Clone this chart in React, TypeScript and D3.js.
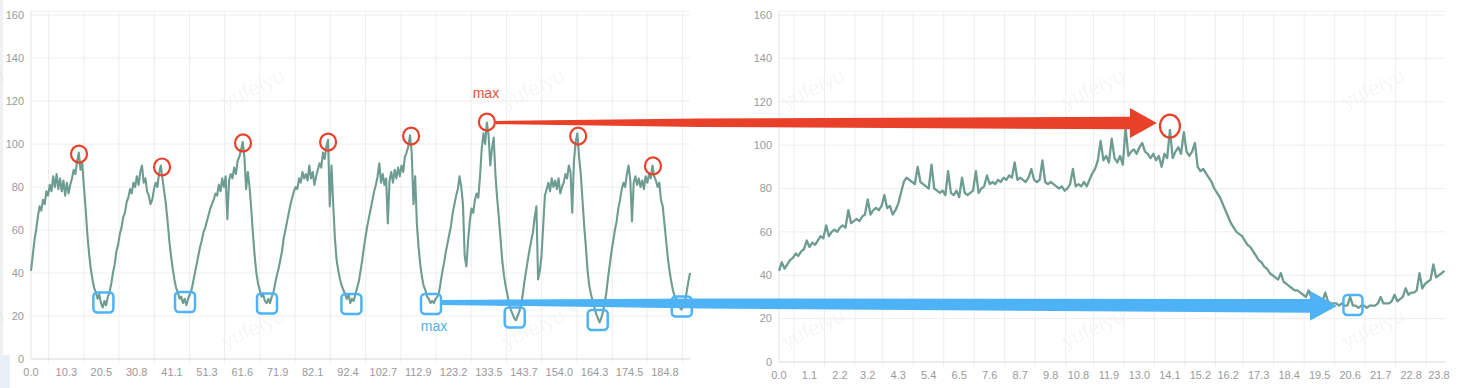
import React, { useEffect, useRef } from 'react';
import * as d3 from 'd3';

const W = 1465;
const H = 388;

// left panel: whole session, sampled every ~0.5 s
const leftValues = [
  41, 48, 55, 60, 66, 71, 69, 74, 72, 78,
  76, 81, 78, 85, 80, 86, 79, 84, 78, 83,
  76, 82, 77, 81, 84, 88, 86, 92, 96, 88,
  91, 80, 70, 58, 49, 42, 37, 33, 31, 28,
  30, 26, 24, 27, 25, 29, 31, 35, 40, 44,
  50, 53, 58, 61, 66, 68, 73, 75, 79, 77,
  82, 80, 85, 81, 87, 90, 82, 84, 78, 76,
  72, 74, 79, 82, 80, 86, 90, 84, 78, 72,
  64, 55, 48, 42, 37, 33, 31, 28, 29, 26,
  28, 25, 28, 30, 32, 36, 40, 44, 48, 52,
  55, 59, 61, 64, 67, 70, 72, 74, 77, 76,
  81, 78, 84, 80, 85, 65, 83, 86, 84, 89,
  86, 92, 94, 97, 101, 94, 79, 87, 80, 70,
  58, 48, 40, 35, 32, 29, 30, 27, 26, 28,
  26, 29, 31, 35, 39, 42, 46, 50, 56, 60,
  64, 68, 72, 75, 78, 80, 79, 84, 82, 87,
  84, 86, 83, 90, 84, 87, 81, 85, 88, 91,
  89, 96, 93, 99, 102, 71, 90, 72, 56, 46,
  41, 37, 34, 32, 30, 28, 30, 26, 28, 27,
  30, 33, 36, 41, 46, 52, 57, 62, 66, 70,
  74, 78, 81, 85, 91, 82, 86, 81, 84, 63,
  83, 87, 82, 88, 84, 89, 85, 90, 87, 94,
  96, 99, 104, 96, 72, 85, 63, 52, 44, 38,
  34, 32, 29, 28, 26, 27, 26, 28, 29, 31,
  36, 41, 45, 50, 54, 58, 62, 68, 72, 76,
  79, 85, 80, 72, 48, 43, 55, 64, 70, 68,
  74, 77, 75, 85, 98, 105, 100, 110, 104, 90,
  98, 103, 86, 75, 66, 56, 46, 39, 34, 30,
  26, 23, 21, 19, 18, 20, 22, 25, 30, 36,
  41, 46, 51, 55, 59, 66, 71, 37, 41, 48,
  62, 76, 79, 82, 78, 84, 80, 83, 79, 84,
  77, 80, 82, 86, 84, 90, 87, 68, 92, 101,
  105, 94, 86, 74, 62, 52, 41, 34, 30, 27,
  24, 21, 19, 17, 19, 22, 26, 31, 38, 44,
  50, 55, 60, 64, 70, 74, 79, 82, 80, 86,
  90, 83, 64, 82, 85, 81, 84, 80, 83, 79,
  85, 82, 86, 84, 90, 85, 83, 80, 82, 74,
  71, 63, 55, 47, 41, 36, 32, 29, 28, 25,
  24, 23, 25, 27, 31, 36, 40,
];
const leftDt = 0.4977;
const leftEnd = 192.1;
const leftXLabels = [
  '0.0', '10.3', '20.5', '30.8', '41.1', '51.3', '61.6', '71.9', '82.1', '92.4',
  '102.7', '112.9', '123.2', '133.5', '143.7', '154.0', '164.3', '174.5', '184.8',
];

// right panel: a single interval, sampled every 0.1
const rightValues = [
  42, 46, 43, 45, 47, 48, 50, 49, 51, 52,
  56, 53, 55, 54, 56, 58, 57, 63, 58, 60,
  61, 60, 62, 63, 62, 70, 64, 65, 66, 65,
  67, 68, 75, 68, 70, 71, 70, 72, 77, 71,
  72, 68, 70, 73, 78, 83, 85, 84, 83, 82,
  90, 83, 82, 81, 80, 91, 80, 79, 78, 79,
  77, 88, 78, 77, 79, 76, 85, 78, 77, 78,
  79, 88, 78, 80, 81, 86, 82, 83, 82, 84,
  83, 85, 84, 86, 85, 92, 84, 85, 84, 83,
  85, 89, 84, 83, 84, 93, 83, 82, 83, 82,
  81, 80, 81, 79, 80, 82, 89, 81, 82, 81,
  83, 81, 84, 87, 89, 93, 102, 93, 95, 92,
  103, 94, 92, 95, 91, 108, 95, 97, 98, 96,
  99, 101, 97, 96, 94, 96, 93, 95, 90, 96,
  94, 107, 94, 97, 99, 96, 106, 97, 95, 97,
  101, 90, 88, 89, 87, 85, 83, 80, 78, 76,
  73, 70, 67, 64, 62, 60, 59, 58, 56, 54,
  53, 51, 49, 47, 46, 44, 43, 41, 40, 39,
  38, 41, 37, 36, 35, 34, 33, 33, 32, 31,
  30, 33, 30, 29, 29, 28, 28, 32, 28, 27,
  27, 27, 26, 27, 26, 26, 30, 26, 26, 25,
  26, 26, 25, 26, 26, 26, 27, 30, 27, 27,
  27, 28, 31, 28, 29, 30, 34, 31, 32, 32,
  33, 41, 34, 36, 37, 38, 45, 39, 40, 41,
  42,
];
const rightDt = 0.1;
const rightEnd = 24.02;
const rightXLabels = [
  '0.0', '1.1', '2.2', '3.2', '4.3', '5.4', '6.5', '7.6', '8.7', '9.8', '10.8', '11.9',
  '13.0', '14.1', '15.2', '16.2', '17.3', '18.4', '19.5', '20.6', '21.7', '22.8', '23.8',
];

const yTicks = [0, 20, 40, 60, 80, 100, 120, 140, 160];

// hand drawn marks, in data units
const leftPeaks = [
  [14.0, 95.3], [38.2, 89.3], [61.8, 100.5], [86.6, 100.9],
  [110.8, 103.7], [132.9, 110.2], [159.5, 103.7], [181.3, 89.8],
];
const leftTroughs = [
  [21.1, 26.3], [44.9, 26.5], [68.8, 25.8], [93.4, 25.6],
  [116.6, 25.6], [141.0, 19.3], [165.2, 18.1], [189.7, 24.4],
];
const rightPeak = [14.1, 108.8];
const rightTrough = [20.7, 26.3];

const FONT = '"Liberation Sans", Arial, Helvetica, sans-serif';
const LINE = '#6d9c90';
const RED = '#e9402a';
const BLUE = '#4db3f6';

export default function App() {
  const svgRef = useRef<SVGSVGElement>(null);

  useEffect(() => {
    if (!svgRef.current) return;
    const svg = d3.select(svgRef.current);
    svg.selectAll('*').remove();

    svg.append('rect').attr('width', W).attr('height', H).attr('fill', '#fff');
    svg.append('rect').attr('x', 0).attr('y', 0).attr('width', 3).attr('height', H).attr('fill', '#eef0f2');
    svg.append('rect').attr('x', 0).attr('y', 355).attr('width', 10).attr('height', 33).attr('fill', '#e9eef8');

    // watermark
    const wm = svg.append('g');
    [-27, 253, 533, 813, 1093, 1373].forEach(cx => {
      [88, 328].forEach(cy => {
        wm.append('text')
          .attr('transform', `translate(${cx},${cy}) rotate(-25)`)
          .attr('text-anchor', 'middle')
          .attr('dy', '0.35em')
          .attr('font-family', FONT)
          .attr('font-size', 21)
          .attr('fill', '#000')
          .attr('fill-opacity', 0.055)
          .text('yufeiyu');
      });
    });

    const panels = [
      { values: leftValues, dt: leftDt, end: leftEnd, labels: leftXLabels, left: 31, right: 690, bottom: 359, width: 2.1 },
      { values: rightValues, dt: rightDt, end: rightEnd, labels: rightXLabels, left: 779, right: 1445, bottom: 362, width: 2.3 },
    ];

    const scales = panels.map(p => {
      const x = d3.scaleLinear().domain([0, p.end]).range([p.left, p.right]);
      const y = d3.scaleLinear().domain([0, 160]).range([p.bottom, 15]);
      const g = svg.append('g');

      // horizontal grid
      g.selectAll('.hgrid')
        .data(yTicks.filter(d => d > 0))
        .enter().append('line')
        .attr('x1', p.left).attr('x2', p.right)
        .attr('y1', d => y(d)).attr('y2', d => y(d))
        .attr('stroke', '#eeeeee');
      g.append('line')
        .attr('x1', p.left).attr('x2', p.right).attr('y1', 11.5).attr('y2', 11.5)
        .attr('stroke', '#f1f1f1');

      // vertical grid sits between labels
      const step = +p.labels[p.labels.length - 1] / (p.labels.length - 1);
      const splits = p.labels.map(l => +l + step / 2).filter(v => v < p.end);
      g.selectAll('.vgrid')
        .data(splits)
        .enter().append('line')
        .attr('x1', d => x(d)).attr('x2', d => x(d))
        .attr('y1', 11.5).attr('y2', p.bottom + 4)
        .attr('stroke', '#eeeeee');

      // axis lines
      g.append('line')
        .attr('x1', p.left).attr('x2', p.right).attr('y1', p.bottom).attr('y2', p.bottom)
        .attr('stroke', '#d9d9d9');
      g.append('line')
        .attr('x1', p.left).attr('x2', p.left).attr('y1', 11.5).attr('y2', p.bottom)
        .attr('stroke', '#e3e3e3');

      // tick labels
      g.selectAll('.ylab')
        .data(yTicks)
        .enter().append('text')
        .attr('x', p.left - 7)
        .attr('y', d => y(d))
        .attr('dy', '0.35em')
        .attr('text-anchor', 'end')
        .attr('font-family', FONT)
        .attr('font-size', 11)
        .attr('fill', '#9a9a9a')
        .text(d => d);
      g.selectAll('.xlab')
        .data(p.labels)
        .enter().append('text')
        .attr('x', d => x(+d))
        .attr('y', p.bottom + 17)
        .attr('text-anchor', 'middle')
        .attr('font-family', FONT)
        .attr('font-size', 11)
        .attr('fill', '#9a9a9a')
        .text(d => d);

      const line = d3.line<number>()
        .x((_, i) => x(i * p.dt))
        .y(d => y(d));
      g.append('path')
        .datum(p.values)
        .attr('fill', 'none')
        .attr('stroke', LINE)
        .attr('stroke-width', p.width)
        .attr('stroke-linejoin', 'round')
        .attr('d', line);

      return { x, y };
    });

    const [L, R] = scales;
    const marks = svg.append('g');

    // red peak circles
    leftPeaks.forEach(([px, py]) => {
      marks.append('ellipse')
        .attr('cx', L.x(px)).attr('cy', L.y(py))
        .attr('rx', 8).attr('ry', 8.5)
        .attr('fill', 'none').attr('stroke', RED).attr('stroke-width', 2.2);
    });
    marks.append('ellipse')
      .attr('cx', R.x(rightPeak[0])).attr('cy', R.y(rightPeak[1]))
      .attr('rx', 10).attr('ry', 11.5)
      .attr('fill', 'none').attr('stroke', RED).attr('stroke-width', 2.2);

    // blue trough boxes
    leftTroughs.forEach(([px, py]) => {
      marks.append('rect')
        .attr('x', L.x(px) - 10).attr('y', L.y(py) - 10)
        .attr('width', 20).attr('height', 20).attr('rx', 4)
        .attr('fill', 'none').attr('stroke', BLUE).attr('stroke-width', 2.5);
    });
    marks.append('rect')
      .attr('x', R.x(rightTrough[0]) - 9.5).attr('y', R.y(rightTrough[1]) - 10)
      .attr('width', 19).attr('height', 20).attr('rx', 4)
      .attr('fill', 'none').attr('stroke', BLUE).attr('stroke-width', 2.5);

    // tapered arrows between panels
    const arrow = (xs: number, ys: number, xt: number, yt: number, widths: number[][], color: string) => {
      const headLen = 27;
      const headHalf = 15;
      const xb = xt - headLen;
      const yAt = (xx: number) => ys + (yt - ys) * (xx - xs) / (xt - xs);
      const pts = widths.map(([f, hw]) => [xs + (xb - xs) * f, hw]);
      const top = pts.map(([xx, hw]) => [xx, yAt(xx) - hw]);
      const bot = pts.map(([xx, hw]) => [xx, yAt(xx) + hw]).reverse();
      const yb = yAt(xb);
      const poly = [
        ...top,
        [xb, yb - headHalf],
        [xt, yt],
        [xb, yb + headHalf],
        ...bot,
      ];
      marks.append('path')
        .attr('d', 'M' + poly.map(q => q.join(',')).join('L') + 'Z')
        .attr('fill', color);
    };

    const maxPeak = leftPeaks[5];
    arrow(L.x(maxPeak[0]) + 9, L.y(maxPeak[1]) + 0.5,
      R.x(rightPeak[0]) - 13, R.y(rightPeak[1]) - 3,
      [[0, 1.6], [0.32, 4.2], [1, 6.3]], RED);

    const maxTrough = leftTroughs[4];
    arrow(L.x(maxTrough[0]) + 11, L.y(maxTrough[1]) - 1.5,
      R.x(rightTrough[0]) - 16, R.y(rightTrough[1]) + 1,
      [[0, 2.5], [0.3, 5], [1, 6.8]], BLUE);

    marks.append('text')
      .attr('x', L.x(maxPeak[0]) - 1).attr('y', L.y(maxPeak[1]) - 24)
      .attr('text-anchor', 'middle')
      .attr('font-family', FONT).attr('font-size', 14)
      .attr('fill', '#e5503c')
      .text('max');
    marks.append('text')
      .attr('x', L.x(maxTrough[0]) + 3).attr('y', L.y(maxTrough[1]) + 27)
      .attr('text-anchor', 'middle')
      .attr('font-family', FONT).attr('font-size', 14)
      .attr('fill', BLUE)
      .text('max');
  }, []);

  return (
    <div>
      <style>{'body{margin:0}'}</style>
      <svg ref={svgRef} width={W} height={H} style={{ display: 'block' }} />
    </div>
  );
}
